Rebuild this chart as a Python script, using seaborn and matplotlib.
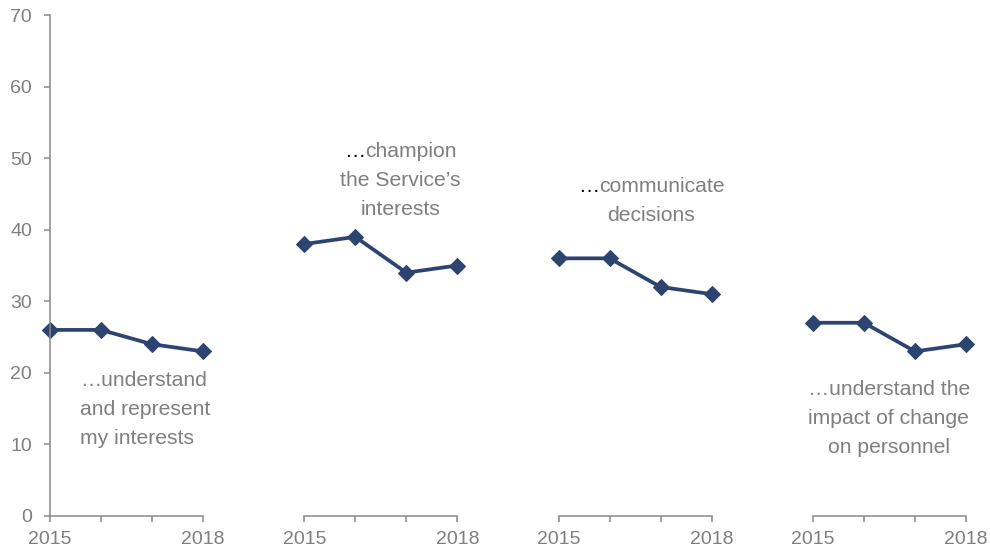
import matplotlib
matplotlib.use("Agg")
import matplotlib.pyplot as plt
import pandas as pd
import seaborn as sns

# Survey results: share agreeing that senior leaders ...
years = ["2015", "2016", "2017", "2018"]
understand_represent = [26, 26, 24, 23]
champion_service = [38, 39, 34, 35]
communicate_decisions = [36, 36, 32, 31]
understand_change = [27, 27, 23, 24]

series = [understand_represent, champion_service, communicate_decisions, understand_change]
panel_labels = [
    ["\u2026understand", "and represent", "my interests"],
    ["\u2026champion", "the Service\u2019s", "interests"],
    ["\u2026communicate", "decisions"],
    ["\u2026understand the", "impact of change", "on personnel"],
]
y_ticks = [0, 10, 20, 30, 40, 50, 60, 70]

sns.set_style("white")
plt.rcParams["font.family"] = ["Liberation Sans", "DejaVu Sans"]

LINE = "#2E4470"
GREY = "#7F7F7F"
AXIS = "#898989"
LABEL_SIZE = 15.2

# label placement per panel: (x, first baseline, horizontal alignment, black ellipsis)
label_style = [
    (0.59, 18.2, "left", False),
    (1.88, 50.1, "center", True),
    (1.82, 45.2, "center", True),
    (1.49, 16.9, "center", False),
]
line_step = 4.05

fig = plt.figure(figsize=(9.9, 5.53), dpi=100)
renderer = fig.canvas.get_renderer()
W, H = 990.0, 553.0
for i, values in enumerate(series):
    left = 50 + i * 254.3
    ax = fig.add_axes([left / W, 37 / H, 153 / W, 501 / H])
    df = pd.DataFrame({"pos": range(len(years)), "value": values})
    sns.lineplot(data=df, x="pos", y="value", ax=ax, color=LINE, linewidth=2.7,
                 marker="D", markersize=8, markeredgecolor=LINE, clip_on=False)
    ax.set_xlim(0, len(years) - 1)
    ax.set_ylim(0, 70)
    ax.set_xlabel("")
    ax.set_ylabel("")
    ax.set_xticks(range(len(years)))
    ax.set_xticklabels([years[0], "", "", years[-1]])
    for side in ["top", "right"]:
        ax.spines[side].set_visible(False)
    ax.spines["bottom"].set_color(AXIS)
    ax.spines["bottom"].set_linewidth(1.1)
    ax.tick_params(axis="x", direction="out", length=4.5, width=1.1, color=AXIS,
                   labelcolor=GREY, labelsize=14, pad=6, bottom=True)
    if i == 0:
        ax.spines["left"].set_color(AXIS)
        ax.spines["left"].set_linewidth(1.1)
        ax.set_yticks(y_ticks)
        ax.tick_params(axis="y", direction="out", length=4.5, width=1.1, color=AXIS,
                       labelcolor=GREY, labelsize=14, pad=8.5, left=True)
    else:
        ax.spines["left"].set_visible(False)
        ax.set_yticks([])

    x0, y0, ha, black_dots = label_style[i]
    for j, line in enumerate(panel_labels[i]):
        y = y0 - j * line_step
        if j == 0 and black_dots:
            # black ellipsis followed by the grey words, centred as one line
            rest = line[1:]
            dots = ax.text(x0, y, "\u2026", ha="left", va="baseline",
                           color="black", fontsize=LABEL_SIZE, clip_on=False)
            words = ax.text(x0, y, rest, ha="left", va="baseline",
                            color=GREY, fontsize=LABEL_SIZE, clip_on=False)
            w_dots = dots.get_window_extent(renderer).width
            w_words = words.get_window_extent(renderer).width
            cx, cy = ax.transData.transform((x0, y))
            start = cx - (w_dots + w_words) / 2.0
            inv = ax.transData.inverted()
            dots.set_x(inv.transform((start, cy))[0])
            words.set_x(inv.transform((start + w_dots, cy))[0])
        else:
            ax.text(x0, y, line, ha=ha, va="baseline",
                    color=GREY, fontsize=LABEL_SIZE, clip_on=False)

fig.savefig("out.png", dpi=100)
